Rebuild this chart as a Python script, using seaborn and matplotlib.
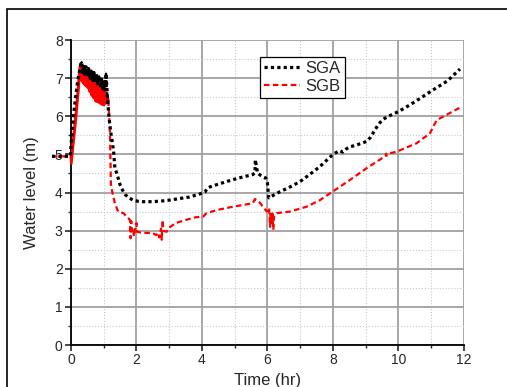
import matplotlib
matplotlib.use("Agg")
import matplotlib.pyplot as plt
import matplotlib.patches as patches
from matplotlib.ticker import MultipleLocator
import seaborn as sns
import pandas as pd

# water level readings (time in hr, level in m)
sga_time = [-0.58, -0.02, 0.02, 0.10, 0.20, 0.30,
            0.33, 0.36, 0.39, 0.42, 0.46, 0.50, 0.54, 0.58, 0.62, 0.66,
            0.70, 0.74, 0.78, 0.82, 0.86, 0.90, 0.94, 0.98, 1.02, 1.04,
            1.07, 1.09, 1.12, 1.17, 1.22, 1.30, 1.34, 1.40, 1.50, 1.60,
            1.65, 1.75, 1.90, 2.05, 2.20, 2.50, 2.80, 3.00, 3.30, 3.60,
            3.90, 4.10, 4.15, 4.25, 4.50, 4.80, 5.00, 5.30, 5.55, 5.62,
            5.63, 5.70, 5.85, 5.95, 6.00, 6.04, 6.10, 6.38, 6.70, 7.00,
            7.30, 7.60, 8.00, 8.20, 8.30, 8.40, 8.52, 8.70, 9.03, 9.15,
            9.28, 9.40, 9.53, 9.65, 9.94, 10.20, 10.50, 11.00, 11.50, 11.88]
sga_level = [4.95, 4.95, 5.45, 6.20, 6.90, 7.38,
             7.42, 7.15, 7.35, 7.10, 7.30, 7.05, 7.25, 6.98, 7.20, 6.92,
             7.15, 6.88, 7.10, 6.85, 7.05, 6.80, 7.02, 6.72, 6.95, 6.70,
             7.12, 6.85, 6.40, 5.90, 5.55, 5.10, 4.65, 4.50, 4.20, 4.02,
             3.95, 3.87, 3.80, 3.77, 3.76, 3.76, 3.78, 3.80, 3.84, 3.88,
             3.95, 4.02, 4.10, 4.15, 4.22, 4.30, 4.35, 4.42, 4.47, 4.52,
             4.86, 4.50, 4.42, 4.38, 4.25, 3.86, 3.89, 4.02, 4.15, 4.29,
             4.48, 4.68, 5.00, 5.10, 5.06, 5.14, 5.20, 5.24, 5.34, 5.45,
             5.64, 5.80, 5.92, 5.98, 6.10, 6.22, 6.38, 6.66, 6.93, 7.24]

sgb_time = [-0.58, -0.01, 0.00, 0.15, 0.28,
            0.30, 0.32, 0.34, 0.36, 0.38, 0.40, 0.43, 0.46, 0.49, 0.52,
            0.55, 0.58, 0.61, 0.64, 0.67, 0.70, 0.73, 0.76, 0.79, 0.82,
            0.85, 0.88, 0.91, 0.94, 0.97, 1.00, 1.03, 1.06, 1.08, 1.14,
            1.19, 1.22, 1.24, 1.34, 1.44, 1.60, 1.75, 1.80, 1.82, 1.84,
            1.86, 1.90, 1.92, 2.00, 2.02, 2.20, 2.50, 2.60, 2.65, 2.70,
            2.75, 2.77, 2.80, 2.82, 2.92, 3.00, 3.20, 3.50, 3.80, 4.04,
            4.14, 4.50, 4.96, 5.30, 5.55, 5.62, 5.77, 5.98, 6.05, 6.08,
            6.10, 6.12, 6.15, 6.18, 6.20, 6.28, 6.69, 7.20, 7.60, 8.00,
            8.52, 9.03, 9.50, 9.60, 9.62, 9.65, 9.74, 9.94, 10.55, 10.80,
            10.96, 11.17, 11.47, 11.93]
sgb_level = [4.95, 4.95, 4.75, 6.00, 7.30,
             7.30, 6.95, 7.25, 6.90, 7.22, 6.85, 7.20, 6.80, 7.15, 6.75,
             7.12, 6.65, 7.08, 6.55, 7.02, 6.48, 6.98, 6.40, 6.95, 6.38,
             6.90, 6.35, 6.85, 6.32, 6.80, 6.30, 6.75, 6.35, 6.60, 6.40,
             5.56, 4.20, 4.10, 3.72, 3.50, 3.46, 3.33, 3.28, 2.80, 3.25,
             3.00, 3.07, 2.85, 3.20, 2.97, 2.94, 2.94, 2.88, 2.95, 2.82,
             3.05, 2.76, 3.28, 3.00, 2.97, 3.08, 3.20, 3.28, 3.35, 3.37,
             3.46, 3.55, 3.63, 3.68, 3.72, 3.83, 3.73, 3.50, 3.60, 3.10,
             3.50, 3.20, 3.45, 3.02, 3.40, 3.46, 3.50, 3.63, 3.80, 4.03,
             4.33, 4.64, 4.90, 4.95, 5.02, 4.97, 5.03, 5.07, 5.29, 5.45,
             5.55, 5.90, 6.04, 6.25]

sga = pd.DataFrame({"t": sga_time, "h": sga_level})
sgb = pd.DataFrame({"t": sgb_time, "h": sgb_level})
# the dense, noisy part right after the filling (prints as a solid band)
sga_noisy = sga[(sga.t >= 0.30) & (sga.t <= 1.12)]
sgb_noisy = sgb[(sgb.t >= 0.0) & (sgb.t <= 1.14)]

sns.set_style("ticks")
plt.rcParams['font.family'] = ['Liberation Sans', 'DejaVu Sans']

fig = plt.figure(figsize=(5.07, 3.87), dpi=100)
ax = fig.add_axes([0.140, 0.1085, 0.775, 0.788])

# outer frame (cropped on the right / bottom)
fig.patches.append(patches.Rectangle((0.0138, -0.2), 1.3, 1.1755, transform=fig.transFigure,
                                     fill=False, edgecolor='black', linewidth=1.2))

sns.lineplot(data=sga, x="t", y="h", sort=False, estimator=None, ax=ax, color='black',
             linewidth=2.3, linestyle=(0, (1, 1)), label='SGA', clip_on=False, zorder=4)
sns.lineplot(data=sgb, x="t", y="h", sort=False, estimator=None, ax=ax, color='red',
             linewidth=1.6, linestyle=(0, (2.5, 1.5)), label='SGB', clip_on=False, zorder=3)
sns.lineplot(data=sgb_noisy, x="t", y="h", sort=False, estimator=None, ax=ax, color='red',
             linewidth=2.2, linestyle='-', zorder=3)
sns.lineplot(data=sga_noisy, x="t", y="h", sort=False, estimator=None, ax=ax, color='black',
             linewidth=1.6, linestyle=(0, (1.2, 0.6)), zorder=4)

ax.set_xlim(0, 12)
ax.set_ylim(0, 8)
ax.xaxis.set_major_locator(MultipleLocator(2))
ax.xaxis.set_minor_locator(MultipleLocator(1))
ax.yaxis.set_major_locator(MultipleLocator(1))
ax.yaxis.set_minor_locator(MultipleLocator(0.5))
ax.grid(which='major', color='#a0a0a0', linewidth=1.3, linestyle='-')
ax.grid(which='minor', color='#c8c8c8', linewidth=0.8, linestyle=':')
ax.set_axisbelow(True)

for s in ['top', 'right']:
    ax.spines[s].set_visible(False)
for s in ['left', 'bottom']:
    ax.spines[s].set_linewidth(1.3)
    ax.spines[s].set_color('black')
ax.tick_params(which='major', direction='out', length=4, width=1.2, labelsize=10, pad=2)
ax.tick_params(which='minor', direction='out', length=2.5, width=1.0)

ax.set_xlabel('Time (hr)', fontsize=12, labelpad=4)
ax.set_ylabel('Water level (m)', fontsize=12, labelpad=11)

leg = ax.legend(loc='upper left', bbox_to_anchor=(0.48, 0.945), fontsize=12, frameon=True,
                fancybox=False, handlelength=2.2, borderpad=0.25, labelspacing=0.2,
                handletextpad=0.3, borderaxespad=0)
leg.get_frame().set_edgecolor('black')
leg.get_frame().set_linewidth(0.9)
leg.get_frame().set_alpha(1)

fig.savefig('out.png', dpi=100)
